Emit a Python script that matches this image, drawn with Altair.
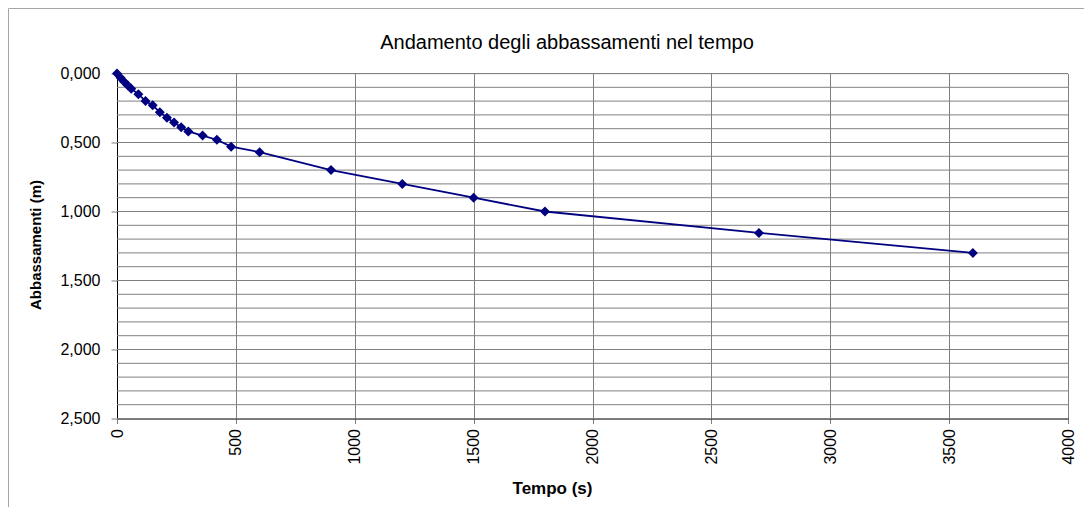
import altair as alt
import pandas as pd

# ---- data ----
tempo_s = [0, 15, 30, 45, 60, 90, 120, 150, 180, 210, 240, 270, 300,
           360, 420, 480, 600, 900, 1200, 1500, 1800, 2700, 3600]
abbassamenti_m = [0.000, 0.030, 0.060, 0.085, 0.110, 0.150, 0.200, 0.230,
                  0.280, 0.320, 0.355, 0.390, 0.420, 0.450, 0.480, 0.530,
                  0.570, 0.700, 0.800, 0.900, 1.000, 1.155, 1.300]

x_ticks = [0, 500, 1000, 1500, 2000, 2500, 3000, 3500, 4000]
y_label_ticks = [0.0, 0.5, 1.0, 1.5, 2.0, 2.5]
y_grid_lines = [0.0, 0.1, 0.2, 0.3, 0.4, 0.5, 0.6, 0.7, 0.8, 0.9, 1.0, 1.1,
                1.2, 1.3, 1.4, 1.5, 1.6, 1.7, 1.8, 1.9, 2.0, 2.1, 2.2, 2.3,
                2.4, 2.5]

title_text = "Andamento degli abbassamenti nel tempo"
x_title = "Tempo (s)"
y_title = "Abbassamenti (m)"

df = pd.DataFrame({"t": tempo_s, "s": abbassamenti_m})
grid_df = pd.DataFrame({"g": y_grid_lines})

FONT = "Liberation Sans"
NAVY = "#000080"
GRID = "#808080"

x_scale = alt.Scale(domain=[0, 4000], nice=False)
y_scale = alt.Scale(domain=[0, 2.5], reverse=True, nice=False)

x_axis = alt.Axis(
    values=x_ticks, title=x_title, format="d",
    labelAngle=270, labelAlign="right", labelBaseline="middle",
    labelFont=FONT, labelFontSize=16, labelColor="#000000",
    labelPadding=5, tickSize=5, tickColor=GRID,
    domainColor="#000000", domainWidth=1,
    grid=True, gridColor=GRID, gridWidth=1,
    titleFont=FONT, titleFontSize=17, titleFontWeight="bold",
    titleColor="#000000", titleX=435, titleY=75,
    titleAlign="center", titleBaseline="alphabetic",
)

y_axis = alt.Axis(
    values=y_label_ticks, title=y_title,
    labelExpr="replace(format(datum.value, '.3f'), '.', ',')",
    labelFont=FONT, labelFontSize=16, labelColor="#000000",
    labelPadding=11, labelBaseline="middle",
    tickSize=6, tickColor=GRID,
    domainColor="#000000", domainWidth=1,
    grid=False,
    titleFont=FONT, titleFontSize=15, titleFontWeight="bold",
    titleColor="#000000", titleAngle=270, titleX=-77, titleY=171,
    titleAlign="center", titleBaseline="alphabetic",
)

# horizontal grid lines every 0.1 m (this layer also carries the y axis)
hgrid = alt.Chart(grid_df).mark_rule(color=GRID, strokeWidth=1).encode(
    y=alt.Y("g:Q", scale=y_scale, axis=y_axis),
)

line = alt.Chart(df).mark_line(color=NAVY, strokeWidth=1.8).encode(
    x=alt.X("t:Q", scale=x_scale, axis=x_axis),
    y=alt.Y("s:Q", scale=y_scale),
)
points = alt.Chart(df).mark_point(shape="diamond", filled=True, size=100,
                                  color=NAVY, opacity=1).encode(
    x=alt.X("t:Q", scale=x_scale),
    y=alt.Y("s:Q", scale=y_scale),
)

one_row = alt.Data(values=[{"title": title_text}])
title_mark = alt.Chart(one_row).mark_text(
    font=FONT, fontSize=20, color="#000000", align="center",
    baseline="alphabetic").encode(
    text="title:N", x=alt.value(450), y=alt.value(-24.5))

border_left = alt.Chart(one_row).mark_rule(color="#a6a6a6", strokeWidth=1).encode(
    x=alt.value(-108.5), y=alt.value(-65), y2=alt.value(440))
border_top = alt.Chart(one_row).mark_rule(color="#a6a6a6", strokeWidth=1).encode(
    x=alt.value(-108.5), x2=alt.value(980), y=alt.value(-65))

chart = alt.layer(hgrid, line, points, title_mark, border_left, border_top).properties(
    width=951,
    height=345,
    padding={"left": 109, "top": 65.5, "right": 16, "bottom": 88.5},
    autosize=alt.AutoSizeParams(type="none"),
).configure_view(strokeWidth=0).configure(background="#ffffff")

chart.save("out.html", embed_options={"renderer": "svg", "actions": False})
